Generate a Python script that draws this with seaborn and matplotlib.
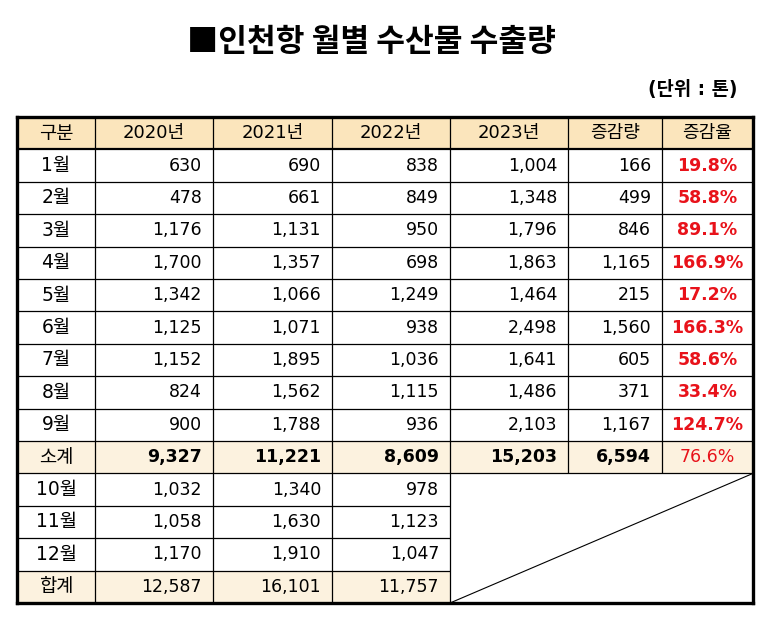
import numpy as np
import matplotlib.pyplot as plt
import seaborn as sns
from matplotlib.colors import ListedColormap

sns.set_theme(style="white")
plt.rcParams['font.family'] = ['DejaVu Sans', 'Noto Sans CJK KR']
plt.rcParams['text.color'] = 'black'

title = "■인천항 월별 수산물 수출량"
unit = "(단위 : 톤)"
headers = ["구분", "2020년", "2021년", "2022년", "2023년", "증감량", "증감율"]

months = ["1월", "2월", "3월", "4월", "5월", "6월", "7월", "8월", "9월"]
y2020 = [630, 478, 1176, 1700, 1342, 1125, 1152, 824, 900]
y2021 = [690, 661, 1131, 1357, 1066, 1071, 1895, 1562, 1788]
y2022 = [838, 849, 950, 698, 1249, 938, 1036, 1115, 936]
y2023 = [1004, 1348, 1796, 1863, 1464, 2498, 1641, 1486, 2103]
diff = [166, 499, 846, 1165, 215, 1560, 605, 371, 1167]
rate = [19.8, 58.8, 89.1, 166.9, 17.2, 166.3, 58.6, 33.4, 124.7]

sub_label = "소계"
sub_vals = [9327, 11221, 8609, 15203, 6594]
sub_rate = 76.6

late_months = ["10월", "11월", "12월"]
late2020 = [1032, 1058, 1170]
late2021 = [1340, 1630, 1910]
late2022 = [978, 1123, 1047]

total_label = "합계"
total_vals = [12587, 16101, 11757]

# column widths in pixels (table is drawn in pixel units)
col_w = [78, 118, 119, 118, 118, 94, 91]
edges = np.concatenate([[0], np.cumsum(col_w)])
n_cols = len(col_w)

header_c = "#FBE5BC"
sub_c = "#FCF2DF"
red = "#E8121A"

# build rows of text
rows = [headers]
for i in range(len(months)):
    rows.append([months[i], f"{y2020[i]:,}", f"{y2021[i]:,}", f"{y2022[i]:,}",
                 f"{y2023[i]:,}", f"{diff[i]:,}", f"{rate[i]:.1f}%"])
rows.append([sub_label] + [f"{v:,}" for v in sub_vals] + [f"{sub_rate:.1f}%"])
for i in range(len(late_months)):
    rows.append([late_months[i], f"{late2020[i]:,}", f"{late2021[i]:,}",
                 f"{late2022[i]:,}", "", "", ""])
rows.append([total_label] + [f"{v:,}" for v in total_vals] + ["", "", ""])
n_rows = len(rows)

sub_row = 1 + len(months)
merge_top = sub_row + 1

bg = np.zeros((n_rows, n_cols))
bg[0, :] = 1
bg[sub_row, :] = 2
bg[n_rows - 1, :4] = 2
mask = np.zeros((n_rows, n_cols), dtype=bool)
mask[merge_top:, 4:] = True

bg_wide = np.repeat(bg, col_w, axis=1)
mask_wide = np.repeat(mask, col_w, axis=1)

fig = plt.figure(figsize=(7.74, 6.21), dpi=100)
ax = fig.add_axes([17 / 774, 1 - 603 / 621, edges[-1] / 774, (603 - 117) / 621])
sns.heatmap(bg_wide, mask=mask_wide, cmap=ListedColormap(["white", header_c, sub_c]),
            vmin=0, vmax=2, cbar=False, xticklabels=False, yticklabels=False,
            linewidths=0, ax=ax)
ax.set_xlim(0, edges[-1])
ax.set_ylim(n_rows, 0)

# grid lines
for r in range(1, n_rows):
    lw = 1.6 if r == 1 else 0.9
    if r > merge_top:
        ax.hlines(r, 0, edges[4], color="black", lw=lw)
    else:
        ax.hlines(r, 0, edges[-1], color="black", lw=lw)
for c in range(1, n_cols):
    if c >= 5:
        ax.vlines(edges[c], 0, merge_top, color="black", lw=0.9)
    else:
        ax.vlines(edges[c], 0, n_rows, color="black", lw=0.9)
ax.plot([edges[-1], edges[4]], [merge_top, n_rows], color="black", lw=0.8)
for s in ax.spines.values():
    s.set_visible(True)
    s.set_color("black")
    s.set_linewidth(2.4)

# cell text
fs = 12.5
for r, row in enumerate(rows):
    for c, txt in enumerate(row):
        if not txt:
            continue
        yc = r + 0.5
        color = "black"
        weight = "normal"
        size = fs
        if r == 0 or c == 0:
            x, ha = (edges[c] + edges[c + 1]) / 2, "center"
            size = 13.5 if c == 0 else 13
        elif c == 6:
            x, ha = (edges[c] + edges[c + 1]) / 2, "center"
            color = red
            if r != sub_row:
                weight = "semibold"
        else:
            x, ha = edges[c + 1] - 11, "right"
        if r == sub_row and 0 < c < 6:
            weight = "semibold"
        ax.text(x, yc, txt, ha=ha, va="center", fontsize=size, color=color,
                fontweight=weight)

fig.text(371 / 774, 1 - 42 / 621, title, ha="center", va="center", fontsize=22.5,
         fontweight="bold", color="black", family=["Noto Sans CJK KR", "DejaVu Sans"])
fig.text(738 / 774, 1 - 90 / 621, unit, ha="right", va="center", fontsize=13.5,
         fontweight="bold", color="black")

fig.savefig("out.png", dpi=100)
